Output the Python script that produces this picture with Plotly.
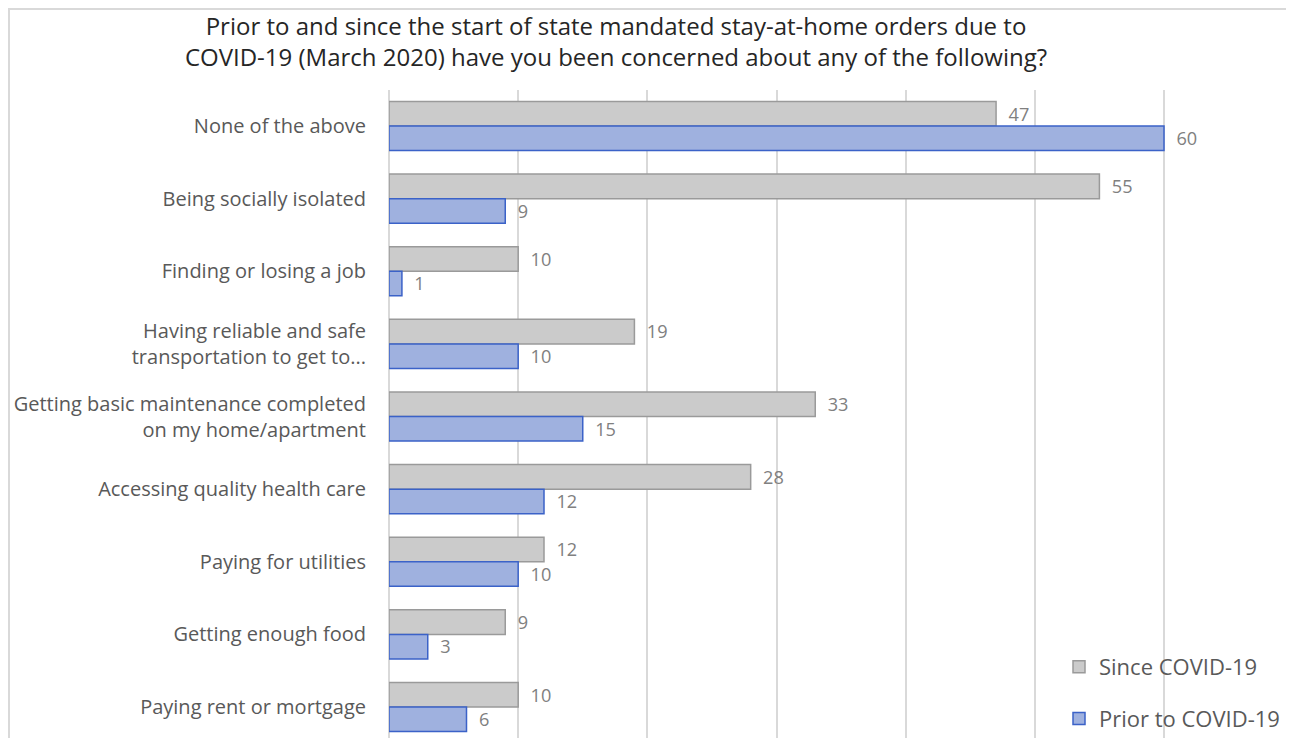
import plotly.graph_objects as go

categories = [
    "None of the above",
    "Being socially isolated",
    "Finding or losing a job",
    "Having reliable and safe<br>transportation to get to...",
    "Getting basic maintenance completed<br>on my home/apartment",
    "Accessing quality health care",
    "Paying for utilities",
    "Getting enough food",
    "Paying rent or mortgage",
]
since_covid = [47, 55, 10, 19, 33, 28, 12, 9, 10]
prior_covid = [60, 9, 1, 10, 15, 12, 10, 3, 6]
series_names = ["Since COVID-19", "Prior to COVID-19"]
title_text = ("Prior to and since the start of state mandated stay-at-home orders due to<br>"
              "COVID-19 (March 2020) have you been concerned about any of the following?")

OFF = 8  # page body margin
W, H = 1294 - OFF, 738 - OFF
L, T, B = 389 - OFF, 90 - OFF, 0
R = W - (1287 - OFF)
FONT = "Open Sans"
pad = "\u00a0\u00a0"

fig = go.Figure()
fig.add_trace(go.Bar(
    y=categories, x=since_covid, orientation="h", name=series_names[0],
    marker=dict(color="#cbcbcb", line=dict(color="#9a9a9a", width=1.5)),
    text=[pad + str(v) for v in since_covid], textposition="outside",
    textfont=dict(color="#808080", size=20, family=FONT), cliponaxis=False,
    legendgroup="a",
))
fig.add_trace(go.Bar(
    y=categories, x=prior_covid, orientation="h", name=series_names[1],
    marker=dict(color="#9fb1df", line=dict(color="#3b62c8", width=1.5)),
    text=[pad + str(v) for v in prior_covid], textposition="outside",
    textfont=dict(color="#808080", size=20, family=FONT), cliponaxis=False,
    legendgroup="b",
))

pw = W - L - R
ph = H - T - B
px_per_unit = (1164 - 389) / 60.0
xmax = pw / px_per_unit
cat_px = (707 - 126) / 8.0
ytop = -(126 - 90) / cat_px
ybot = 8 + (738 - 707) / cat_px

def px_x(p):
    return (p - OFF - L) / pw

def px_y(p):
    return (H - B - (p - OFF)) / ph

fig.update_layout(
    width=W, height=H,
    margin=dict(l=L, r=R, t=T, b=B, autoexpand=False),
    paper_bgcolor="white", plot_bgcolor="white",
    barmode="group", bargap=0.325, bargroupgap=0,
    title=dict(text=title_text, x=(616 - OFF) / W, xanchor="center",
               y=1 - (35 - OFF) / H, yanchor="middle",
               font=dict(family=FONT, size=24, color="#262626")),
    xaxis=dict(range=[0, xmax], dtick=10, showticklabels=False, showgrid=True,
               gridcolor="#d9d9d9", gridwidth=1.5, zeroline=True, zerolinecolor="#d9d9d9",
               zerolinewidth=1.5, showline=False, fixedrange=True),
    yaxis=dict(categoryorder="array", categoryarray=categories, range=[ybot, ytop],
               showgrid=False, zeroline=False, showline=False, ticks="outside",
               ticklen=18, tickcolor="rgba(0,0,0,0)",
               tickfont=dict(family=FONT, size=20, color="#595959"), fixedrange=True),
    legend=dict(x=px_x(1059), y=px_y(646), xanchor="left", yanchor="top",
                bgcolor="rgba(0,0,0,0)", tracegroupgap=20, traceorder="grouped",
                font=dict(family=FONT, size=22, color="#595959")),
    shapes=[dict(type="rect", xref="paper", yref="paper",
                 x0=px_x(9), x1=px_x(1288), y0=px_y(760), y1=px_y(9),
                 line=dict(color="#d9d9d9", width=2), fillcolor="rgba(0,0,0,0)", layer="below")],
)

fig.write_html("out.html")
